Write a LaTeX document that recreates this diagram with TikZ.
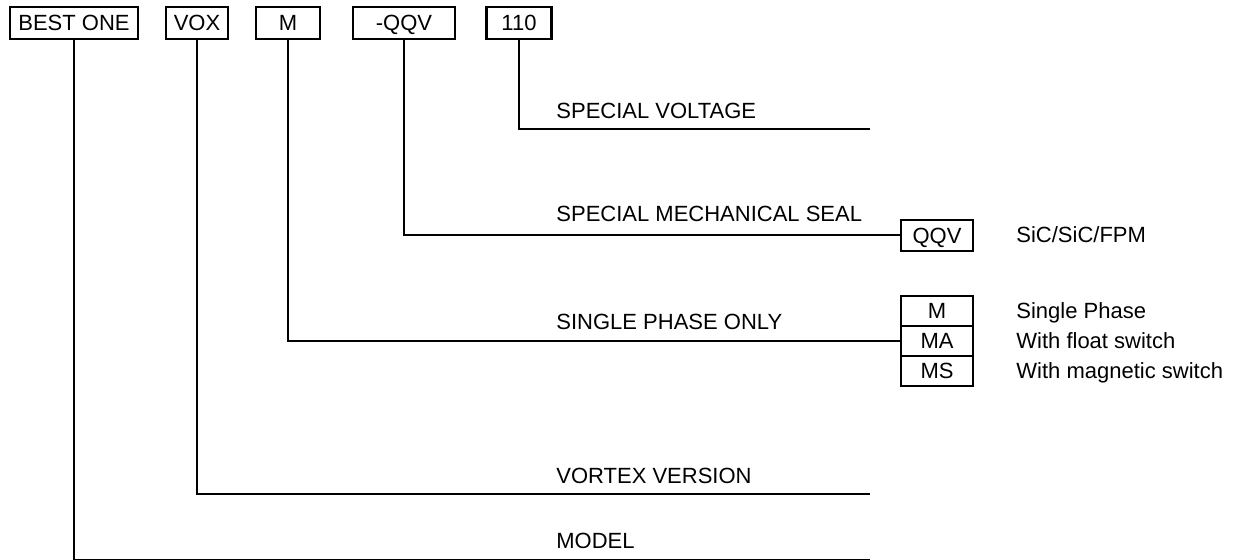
\documentclass[tikz,border=0pt]{standalone}
\usepackage{fontspec}
\setmainfont{Liberation Sans}
\begin{document}
\begin{tikzpicture}[x=0.5pt,y=-0.5pt]
\tikzset{every node/.style={font=\fontsize{11}{13}\selectfont},
  code/.style={draw,line width=1.2pt,minimum height=16pt,inner sep=0pt,text height=8pt,text depth=0pt},
  opt/.style={draw,line width=1.2pt,minimum width=36pt,minimum height=15pt,inner sep=0pt,text height=8pt,text depth=0pt},
  lbl/.style={anchor=base west,inner sep=0pt}}
\useasboundingbox (0,0) rectangle (1238,560);

% Nodes for the code parts
\node[code,minimum width=64pt] at (74,23) (best) {BEST ONE};
\node[code,minimum width=31pt] at (197,23) (vox) {VOX};
\node[code,minimum width=32pt] at (288,23) (nm) {M};
\node[code,minimum width=51pt] at (404,23) (nqqv) {-QQV};
\node[code,minimum width=32.5pt] at (519,23) (n110) {110};

% Ends of the lines
\coordinate (volt) at (870,129);
\coordinate (vort) at (870,494);
\coordinate (mod) at (870,560.5);

% Nodes for the meanings
\node[lbl] at (556,119) (tvolt) {SPECIAL VOLTAGE};
\node[lbl] at (556,222) (tseal) {SPECIAL MECHANICAL SEAL};
\node[lbl] at (556,330) (tphase) {SINGLE PHASE ONLY};
\node[lbl] at (556,484) (tvort) {VORTEX VERSION};
\node[lbl] at (556,549) (tmod) {MODEL};

% Nodes for the options
\node[opt,minimum height=15.5pt] at (937,235.5) (qqv) {QQV};
\node[opt] at (937,311) (m) {M};
\node[opt] at (937,341) (ma) {MA};
\node[opt] at (937,371) (ms) {MS};

\node[lbl] at (1016,243) (tqqv) {SiC/SiC/FPM};
\node[lbl] at (1016,318.5) (tm) {Single Phase};
\node[lbl] at (1016,348.5) (tma) {With float switch};
\node[lbl] at (1016,378.5) (tms) {With magnetic switch};

% Lines
\draw[line width=1pt] (n110) |- (volt);
\draw[line width=1pt] (nqqv) |- (qqv);
\draw[line width=1pt] (nm) |- (ma);
\draw[line width=1pt] (vox) |- (vort);
\draw[line width=1pt] (best) |- (mod);
\end{tikzpicture}
\end{document}
